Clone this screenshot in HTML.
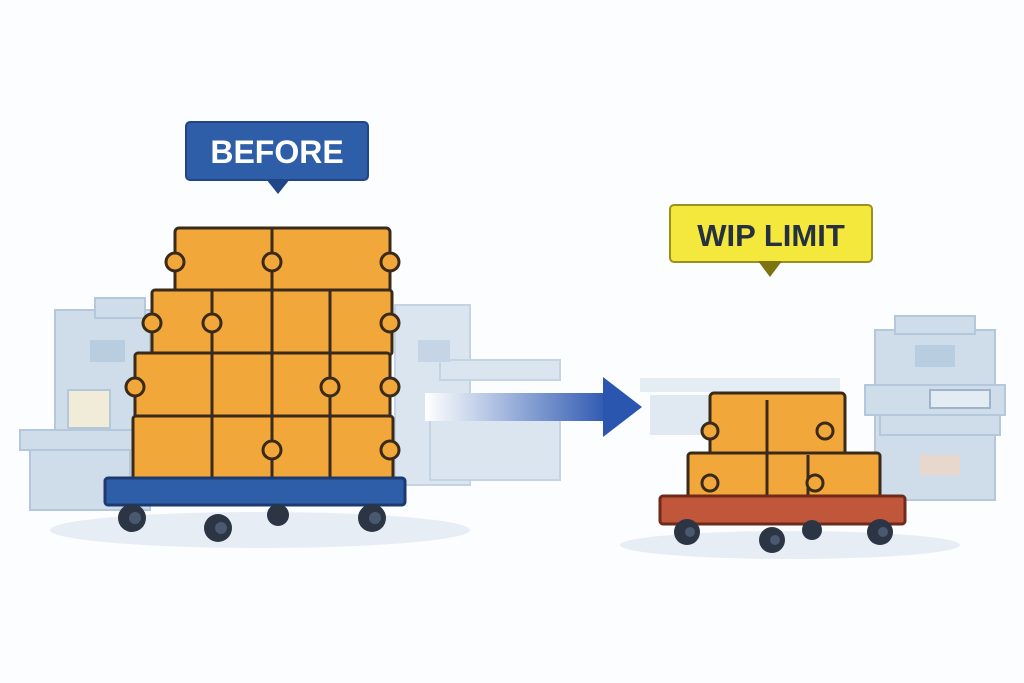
<!DOCTYPE html>
<html><head><style>
html,body{margin:0;padding:0;background:#fcfdfe;}
svg{display:block}
text{font-family:"Liberation Sans","DejaVu Sans",sans-serif;font-weight:bold}
</style></head><body>
<svg width="1024" height="683" viewBox="0 0 1024 683" xmlns="http://www.w3.org/2000/svg">
<defs>
<linearGradient id="ar" x1="0" x2="1"><stop offset="0" stop-color="#fff"/><stop offset="0.15" stop-color="#dfe7f4"/><stop offset="1" stop-color="#2b56b0"/></linearGradient>
</defs>
<rect width="1024" height="683" fill="#fcfdfe"/>
<ellipse cx="260" cy="530" rx="210" ry="18" fill="#e6edf5"/>
<ellipse cx="790" cy="545" rx="170" ry="14" fill="#e6edf5"/>
<g fill="#cfdcea" stroke="#b5c7da" stroke-width="2">
<rect x="55" y="310" width="95" height="200"/>
<rect x="95" y="298" width="50" height="20"/>
<rect x="20" y="430" width="120" height="20"/>
<rect x="30" y="450" width="100" height="60"/>
</g>
<rect x="68" y="390" width="42" height="38" fill="#f1ecd8" stroke="#b5c7da" stroke-width="2"/>
<rect x="90" y="340" width="35" height="22" fill="#b9cde0"/>
<g fill="#dbe5ef" stroke="#c5d4e3" stroke-width="2">
<rect x="395" y="305" width="75" height="180"/>
<rect x="440" y="360" width="120" height="20"/>
<rect x="430" y="420" width="130" height="60"/>
</g>
<rect x="418" y="340" width="32" height="22" fill="#c5d5e5"/>
<g fill="#cfdcea" stroke="#b5c7da" stroke-width="2">
<rect x="875" y="330" width="120" height="170"/>
<rect x="895" y="316" width="80" height="18"/>
<rect x="865" y="385" width="140" height="30"/>
<rect x="880" y="415" width="120" height="20"/>
</g>
<rect x="915" y="345" width="40" height="22" fill="#b9cde0"/>
<rect x="930" y="390" width="60" height="18" fill="#e3ebf3" stroke="#9fb4ca" stroke-width="2"/>
<rect x="920" y="455" width="40" height="20" fill="#e8d7cc"/>
<rect x="640" y="378" width="200" height="14" fill="#e4ecf4"/>
<rect x="650" y="395" width="60" height="40" fill="#e0e9f2"/>
<rect x="425" y="393" width="185" height="28" fill="url(#ar)"/>
<polygon points="603,377 642,407 603,437" fill="#2b56b0"/>
<rect x="186" y="122" width="182" height="58" rx="4" fill="#2f5ea8" stroke="#1f4687" stroke-width="2"/>
<polygon points="266,179 290,179 278,194" fill="#1f4687"/>
<text x="277" y="163" font-size="32" fill="#fff" text-anchor="middle">BEFORE</text>
<g stroke="#3a2a1a" stroke-width="3" fill="#f2a73a">
<rect x="175" y="228" width="215" height="66" rx="4"/>
<rect x="152" y="290" width="240" height="65" rx="3"/>
<rect x="135" y="353" width="255" height="65" rx="3"/>
<rect x="133" y="416" width="260" height="70" rx="3"/>
<line x1="272" y1="228" x2="272" y2="486"/>
<line x1="212" y1="290" x2="212" y2="486"/>
<line x1="330" y1="290" x2="330" y2="486"/>
</g>
<g fill="#f2a73a" stroke="#3a2a1a" stroke-width="3">
<circle cx="272" cy="262" r="9"/><circle cx="212" cy="323" r="9"/><circle cx="330" cy="387" r="9"/>
<circle cx="272" cy="450" r="9"/><circle cx="390" cy="262" r="9"/><circle cx="390" cy="323" r="9"/>
<circle cx="390" cy="387" r="9"/><circle cx="390" cy="450" r="9"/><circle cx="175" cy="262" r="9"/>
<circle cx="152" cy="323" r="9"/><circle cx="135" cy="387" r="9"/>
</g>
<rect x="105" y="478" width="300" height="27" rx="3" fill="#2f5ea8" stroke="#1c3a70" stroke-width="3"/>
<g fill="#2c3544"><circle cx="132" cy="518" r="14"/><circle cx="218" cy="528" r="14"/><circle cx="278" cy="515" r="11"/><circle cx="372" cy="518" r="14"/></g>
<g fill="#4a5870"><circle cx="135" cy="518" r="6"/><circle cx="221" cy="528" r="6"/><circle cx="375" cy="518" r="6"/></g>
<rect x="670" y="205" width="202" height="57" rx="4" fill="#f5e83c" stroke="#9a9020" stroke-width="2"/>
<polygon points="758,261 782,261 770,277" fill="#7c7410"/>
<text x="771" y="246" font-size="31" fill="#253040" text-anchor="middle">WIP LIMIT</text>
<g stroke="#3a2a1a" stroke-width="3" fill="#f2a73a">
<rect x="710" y="393" width="135" height="65" rx="4"/>
<rect x="688" y="453" width="192" height="50" rx="3"/>
<line x1="767" y1="400" x2="767" y2="503"/>
<line x1="808" y1="455" x2="808" y2="503"/>
<circle cx="710" cy="431" r="8"/><circle cx="825" cy="431" r="8"/><circle cx="710" cy="483" r="8"/><circle cx="815" cy="483" r="8"/>
</g>
<rect x="660" y="496" width="245" height="28" rx="3" fill="#c0573a" stroke="#6e2a1a" stroke-width="3"/>
<g fill="#2c3544"><circle cx="687" cy="532" r="13"/><circle cx="772" cy="540" r="13"/><circle cx="812" cy="530" r="10"/><circle cx="880" cy="532" r="13"/></g>
<g fill="#4a5870"><circle cx="690" cy="532" r="5"/><circle cx="775" cy="540" r="5"/><circle cx="883" cy="532" r="5"/></g>
</svg>
</body></html>
